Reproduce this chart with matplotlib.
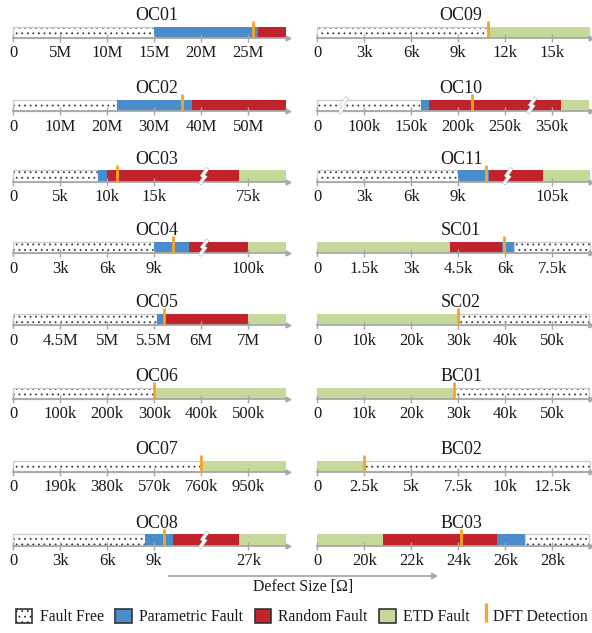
import numpy as np
import matplotlib
matplotlib.use('Agg')
import matplotlib.pyplot as plt
from matplotlib.patches import Patch, FancyArrowPatch
from matplotlib.lines import Line2D
from matplotlib import patheffects as pe

plt.rcParams['font.family'] = ['Liberation Serif', 'DejaVu Serif']
plt.rcParams['hatch.linewidth'] = 0.6

# ---------------- data ----------------
left_panels = ['OC01', 'OC02', 'OC03', 'OC04', 'OC05', 'OC06', 'OC07', 'OC08']
right_panels = ['OC09', 'OC10', 'OC11', 'SC01', 'SC02', 'BC01', 'BC02', 'BC03']

# segment types along the defect-size axis (FF=fault free, PF=parametric, RF=random, ETD=ETD fault)
seg_types = {
    'OC01': ['FF', 'PF', 'RF'],
    'OC02': ['FF', 'PF', 'RF'],
    'OC03': ['FF', 'PF', 'RF', 'ETD'],
    'OC04': ['FF', 'PF', 'RF', 'ETD'],
    'OC05': ['FF', 'PF', 'RF', 'ETD'],
    'OC06': ['FF', 'ETD'],
    'OC07': ['FF', 'ETD'],
    'OC08': ['FF', 'PF', 'RF', 'ETD'],
    'OC09': ['FF', 'ETD'],
    'OC10': ['FF', 'PF', 'RF', 'ETD'],
    'OC11': ['FF', 'PF', 'RF', 'ETD'],
    'SC01': ['ETD', 'RF', 'PF', 'FF'],
    'SC02': ['ETD', 'FF'],
    'BC01': ['ETD', 'FF'],
    'BC02': ['ETD', 'FF'],
    'BC03': ['ETD', 'RF', 'PF', 'FF'],
}

# segment boundaries in Ohm
seg_edges = {
    'OC01': [0, 15e6, 26e6, 29e6],
    'OC02': [0, 22e6, 38e6, 58e6],
    'OC03': [0, 9e3, 10e3, 70e3, 95e3],
    'OC04': [0, 9e3, 11.2e3, 100e3, 116e3],
    'OC05': [0, 5.53e6, 5.59e6, 7e6, 7.8e6],
    'OC06': [0, 300e3, 580e3],
    'OC07': [0, 760e3, 1102e3],
    'OC08': [0, 8.4e3, 10.2e3, 26e3, 31e3],
    'OC09': [0, 10.9e3, 17.4e3],
    'OC10': [0, 160e3, 169e3, 369e3, 429e3],
    'OC11': [0, 9e3, 10.95e3, 102e3, 117e3],
    'SC01': [0, 4.23e3, 5.9e3, 6.28e3, 8.69e3],
    'SC02': [0, 30.1e3, 57.9e3],
    'BC01': [0, 29.1e3, 57.9e3],
    'BC02': [0, 2.5e3, 14.5e3],
    'BC03': [0, 20.8e3, 25.64e3, 26.82e3, 29.58e3],
}

# DFT detection thresholds in Ohm
dft_values = {
    'OC01': 25.5e6, 'OC02': 36e6, 'OC03': 11e3, 'OC04': 10.2e3,
    'OC05': 5.6e6, 'OC06': 300e3, 'OC07': 760e3, 'OC08': 9.6e3,
    'OC09': 10.9e3, 'OC10': 215e3, 'OC11': 10.75e3, 'SC01': 5.95e3,
    'SC02': 30e3, 'BC01': 29e3, 'BC02': 2.5e3, 'BC03': 24.1e3,
}

tick_values = {
    'OC01': [0, 5e6, 10e6, 15e6, 20e6, 25e6],
    'OC02': [0, 10e6, 20e6, 30e6, 40e6, 50e6],
    'OC03': [0, 5e3, 10e3, 15e3, 75e3],
    'OC04': [0, 3e3, 6e3, 9e3, 100e3],
    'OC05': [0, 4.5e6, 5e6, 5.5e6, 6e6, 7e6],
    'OC06': [0, 100e3, 200e3, 300e3, 400e3, 500e3],
    'OC07': [0, 190e3, 380e3, 570e3, 760e3, 950e3],
    'OC08': [0, 3e3, 6e3, 9e3, 27e3],
    'OC09': [0, 3e3, 6e3, 9e3, 12e3, 15e3],
    'OC10': [0, 100e3, 150e3, 200e3, 250e3, 350e3],
    'OC11': [0, 3e3, 6e3, 9e3, 105e3],
    'SC01': [0, 1.5e3, 3e3, 4.5e3, 6e3, 7.5e3],
    'SC02': [0, 10e3, 20e3, 30e3, 40e3, 50e3],
    'BC01': [0, 10e3, 20e3, 30e3, 40e3, 50e3],
    'BC02': [0, 2.5e3, 5e3, 7.5e3, 10e3, 12.5e3],
    'BC03': [0, 20e3, 22e3, 24e3, 26e3, 28e3],
}

tick_labels = {
    'OC01': ['0', '5M', '10M', '15M', '20M', '25M'],
    'OC02': ['0', '10M', '20M', '30M', '40M', '50M'],
    'OC03': ['0', '5k', '10k', '15k', '75k'],
    'OC04': ['0', '3k', '6k', '9k', '100k'],
    'OC05': ['0', '4.5M', '5M', '5.5M', '6M', '7M'],
    'OC06': ['0', '100k', '200k', '300k', '400k', '500k'],
    'OC07': ['0', '190k', '380k', '570k', '760k', '950k'],
    'OC08': ['0', '3k', '6k', '9k', '27k'],
    'OC09': ['0', '3k', '6k', '9k', '12k', '15k'],
    'OC10': ['0', '100k', '150k', '200k', '250k', '350k'],
    'OC11': ['0', '3k', '6k', '9k', '105k'],
    'SC01': ['0', '1.5k', '3k', '4.5k', '6k', '7.5k'],
    'SC02': ['0', '10k', '20k', '30k', '40k', '50k'],
    'BC01': ['0', '10k', '20k', '30k', '40k', '50k'],
    'BC02': ['0', '2.5k', '5k', '7.5k', '10k', '12.5k'],
    'BC03': ['0', '20k', '22k', '24k', '26k', '28k'],
}

# ---------------- axis scale definition (value -> slot) ----------------
scale_knots = {
    'OC01': ([0, 5e6], [0, 1]),
    'OC02': ([0, 10e6], [0, 1]),
    'OC03': ([0, 15e3, 20e3, 50e3, 75e3], [0, 3, 4, 4.01, 5]),
    'OC04': ([0, 9e3, 12e3, 80e3, 100e3], [0, 3, 4, 4.01, 5]),
    'OC05': ([0, 4.5e6, 5e6, 5.5e6, 6e6, 7e6], [0, 1, 2, 3, 4, 5]),
    'OC06': ([0, 100e3], [0, 1]),
    'OC07': ([0, 190e3], [0, 1]),
    'OC08': ([0, 9e3, 12e3, 22e3, 27e3], [0, 3, 4, 4.01, 5]),
    'OC09': ([0, 3e3], [0, 1]),
    'OC10': ([0, 100e3, 150e3, 200e3, 250e3, 350e3], [0, 1, 2, 3, 4, 5]),
    'OC11': ([0, 9e3, 12e3, 90e3, 105e3], [0, 3, 4, 4.01, 5]),
    'SC01': ([0, 1.5e3], [0, 1]),
    'SC02': ([0, 10e3], [0, 1]),
    'BC01': ([0, 10e3], [0, 1]),
    'BC02': ([0, 2.5e3], [0, 1]),
    'BC03': ([0, 20e3, 22e3, 24e3, 26e3, 28e3], [0, 1, 2, 3, 4, 5]),
}
break_slots = {'OC03': [4.05], 'OC04': [4.05], 'OC08': [4.05], 'OC11': [4.05],
               'OC10': [0.55, 4.56]}

COLORS = {'PF': '#4a8ccc', 'RF': '#c0232b', 'ETD': '#c6d89c'}
ORANGE = '#f6a623'
AXGREY = '#a8a8a8'
DOT = '#3a3a3a'


def make_scale(vals, pos):
    vals = np.asarray(vals, float)
    pos = np.asarray(pos, float)

    def pw(x, a, b):
        x = np.asarray(x, float)
        y = np.interp(x, a, b)
        s_lo = (b[1] - b[0]) / (a[1] - a[0])
        s_hi = (b[-1] - b[-2]) / (a[-1] - a[-2])
        y = np.where(x < a[0], b[0] + (x - a[0]) * s_lo, y)
        y = np.where(x > a[-1], b[-1] + (x - a[-1]) * s_hi, y)
        return y

    return (lambda x: pw(x, vals, pos)), (lambda y: pw(y, pos, vals))


class VLineHandler:
    def legend_artist(self, legend, orig_handle, fontsize, handlebox):
        x0, y0 = handlebox.xdescent, handlebox.ydescent
        w, h = handlebox.width, handlebox.height
        xm = x0 + 0.5 * w
        ln = Line2D([xm, xm], [y0 - 0.15 * h, y0 + 1.15 * h],
                    color=orig_handle.get_color(), lw=2.3, solid_capstyle='butt')
        handlebox.add_artist(ln)
        return ln


# ---------------- layout ----------------
W, H = 592, 633
fig = plt.figure(figsize=(W / 100, H / 100), dpi=100)
col_x0 = [13.3, 317.3]
unit_px = 47.0
xmax_slot = [5.85, 5.83]
row_tops = [26.5, 99.7, 170.4, 241.8, 313.8, 387.5, 460.5, 534.2]
bar_h = 11.5

for c, names in enumerate([left_panels, right_panels]):
    for r, name in enumerate(names):
        x0 = col_x0[c]
        wpx = xmax_slot[c] * unit_px
        top = row_tops[r]
        ax = fig.add_axes([x0 / W, 1 - (top + bar_h) / H, wpx / W, bar_h / H])
        fwd, inv = make_scale(*scale_knots[name])
        ax.set_xscale('function', functions=(fwd, inv))
        ax.set_xlim(0, float(inv(xmax_slot[c])))
        ax.set_ylim(0, 1)
        edges = seg_edges[name]
        for t, a, b in zip(seg_types[name], edges[:-1], edges[1:]):
            if t == 'FF':
                ax.barh(0.5, b - a, left=a, height=1, color='white',
                        edgecolor=DOT, lw=0, hatch='...')
                ax.barh(0.5, b - a, left=a, height=1, fill=False,
                        edgecolor='#cccccc', lw=0.9, clip_on=False)
            else:
                ax.barh(0.5, b - a, left=a, height=1, color=COLORS[t], lw=0)
        # DFT marker
        d = dft_values[name]
        ax.plot([d, d], [0, 1 + 5.5 / bar_h], color=ORANGE, lw=2.0,
                clip_on=False, zorder=4, solid_capstyle='butt')
        # breaks
        for bp in break_slots.get(name, []):
            xa = bp / xmax_slot[c]
            pts = [(3.0, 6.5), (-1.2, 0.7), (1.2, -0.7), (-3.0, -6.5)]
            xs = [xa + dx / wpx for dx, dy in pts]
            ys = [0.5 + dy / bar_h for dx, dy in pts]
            ax.plot(xs, ys, transform=ax.transAxes, color='white', lw=1.8,
                    zorder=5, clip_on=False, solid_joinstyle='miter',
                    path_effects=[pe.withStroke(linewidth=2.8, foreground='#b5b5b5'),
                                  pe.Normal()])
        ax.set_xticks(tick_values[name], tick_labels[name])
        ax.minorticks_off()
        ax.tick_params(axis='x', direction='inout', length=6, width=1,
                       color=AXGREY, labelsize=12, pad=2.3, labelcolor='#1a1a1a')
        ax.set_yticks([])
        for s in ['top', 'left', 'right']:
            ax.spines[s].set_visible(False)
        ax.spines['bottom'].set_color(AXGREY)
        ax.spines['bottom'].set_linewidth(1.3)
        ax.plot([1.0], [0], marker='>', ms=3.5, color=AXGREY,
                transform=ax.transAxes, clip_on=False, zorder=3)
        ax.patch.set_visible(False)
        ax.text(3.06 / xmax_slot[c], 1 + 6.7 / bar_h, name, transform=ax.transAxes,
                ha='center', va='baseline', fontsize=13, color='#1a1a1a')

# x label with arrow
fig.add_artist(FancyArrowPatch((166 / W, 1 - 576 / H), (441 / W, 1 - 576 / H),
                               transform=fig.transFigure, arrowstyle='-|>',
                               mutation_scale=8, color=AXGREY, lw=1.3))
fig.text(303 / W, 1 - 587 / H, 'Defect Size [Ω]', ha='center', va='center',
         fontsize=11.4, color='#1a1a1a')

# legend (patches on the left, DFT marker entry on the right)
handles = [
    Patch(facecolor='white', edgecolor='#333333', hatch='...', lw=1.2, label='Fault Free'),
    Patch(facecolor=COLORS['PF'], edgecolor='#333333', lw=1.2, label='Parametric Fault'),
    Patch(facecolor=COLORS['RF'], edgecolor='#333333', lw=1.2, label='Random Fault'),
    Patch(facecolor=COLORS['ETD'], edgecolor='#333333', lw=1.2, label='ETD Fault'),
]
fig.legend(handles=handles, loc='center left', bbox_to_anchor=(16 / W, 1 - 617 / H),
           ncol=4, frameon=False, fontsize=11.3, handlelength=1.05, handleheight=1.05,
           handletextpad=0.45, columnspacing=0.75, borderpad=0, borderaxespad=0,
           labelcolor='#1a1a1a')
dft_handle = Line2D([], [], color=ORANGE, label='DFT Detection')
fig.legend(handles=[dft_handle], loc='center right', bbox_to_anchor=(588 / W, 1 - 617 / H),
           frameon=False, fontsize=11.3, handlelength=0.3, handleheight=1.05,
           handletextpad=0.3, borderpad=0, borderaxespad=0, labelcolor='#1a1a1a',
           handler_map={Line2D: VLineHandler()})

fig.savefig('out.png', dpi=100)
